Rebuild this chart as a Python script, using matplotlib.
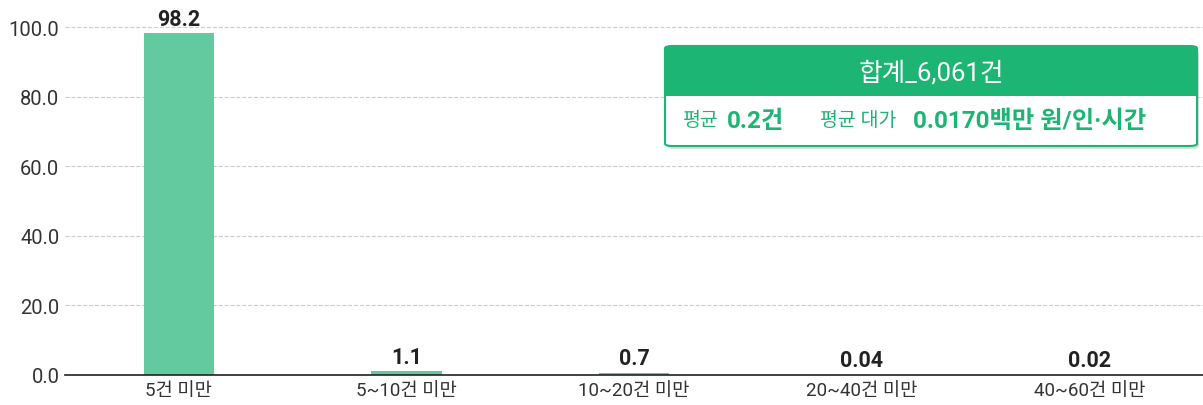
import numpy as np
import matplotlib.pyplot as plt
from matplotlib.patches import FancyBboxPatch, Rectangle

plt.rcParams['font.family'] = ['Roboto', 'Noto Sans CJK KR', 'DejaVu Sans']

# 데이터
categories = ['5건 미만', '5~10건 미만', '10~20건 미만', '20~40건 미만', '40~60건 미만']
values = [98.2, 1.1, 0.7, 0.04, 0.02]
labels = ['98.2', '1.1', '0.7', '0.04', '0.02']
yticks = [0, 20, 40, 60, 80, 100]

fig = plt.figure(figsize=(12.03, 4.06), dpi=100)
ax = fig.add_axes([65 / 1203, 30 / 406, 1138 / 1203, 365.4 / 406])

x = np.arange(len(categories))
ax.bar(x, values, width=0.31, color='#62CA9E', zorder=3)
for xi, v, lab in zip(x, values, labels):
    ax.annotate(lab, (xi, v), xytext=(0, 2.5), textcoords='offset points',
                ha='center', va='bottom', fontsize=15.5, fontweight='bold', color='#222222')

ax.set_xlim(-0.5, 4.5)
ax.set_ylim(0, 105)
ax.set_yticks(yticks)
ax.set_yticklabels([f'{t:.1f}' for t in yticks], fontsize=14.5, color='#333333')
ax.set_xticks(x)
ax.set_xticklabels(categories, fontsize=13.5, color='#333333')
ax.tick_params(length=0, pad=4)
ax.yaxis.grid(True, linestyle='--', color='#cccccc', linewidth=0.8, zorder=0)
for s in ['top', 'right', 'left']:
    ax.spines[s].set_visible(False)
ax.spines['bottom'].set_color('#222222')
ax.spines['bottom'].set_linewidth(1.2)
ax.spines['bottom'].set_zorder(4)

# 요약 박스
W, H = 1203, 406
bx, by, bw, bh = 665, 47, 532, 100
shadow = FancyBboxPatch(((bx + 2) / W, (H - by - bh - 3) / H), bw / W, bh / H,
                        boxstyle='round,pad=0,rounding_size=0.006', transform=fig.transFigure,
                        facecolor='#bbbbbb', edgecolor='none', alpha=0.5, zorder=5)
box = FancyBboxPatch((bx / W, (H - by - bh) / H), bw / W, bh / H,
                     boxstyle='round,pad=0,rounding_size=0.006', transform=fig.transFigure,
                     facecolor='white', edgecolor='#1DB574', linewidth=1.5, zorder=6)
head = Rectangle((bx / W, (H - by - 50) / H), bw / W, 50 / H, transform=fig.transFigure,
                 facecolor='#1DB574', edgecolor='none', zorder=7)
fig.patches.extend([shadow, box, head])

fig.text((bx + bw / 2) / W, (H - 73) / H, '합계_6,061건', ha='center', va='center',
         fontsize=18.5, color='white', zorder=8)
yrow = (H - 121) / H
green = '#1DB574'
fig.text(683 / W, yrow, '평균', ha='left', va='center', fontsize=14, color=green, zorder=8)
fig.text(727 / W, yrow, '0.2건', ha='left', va='center', fontsize=17.5, fontweight='bold', color=green, zorder=8)
fig.text(820 / W, yrow, '평균 대가', ha='left', va='center', fontsize=14, color=green, zorder=8)
fig.text(913 / W, yrow, '0.0170백만 원/인·시간', ha='left', va='center', fontsize=17.5, fontweight='bold', color=green, zorder=8)

fig.savefig('out.png', dpi=100)
